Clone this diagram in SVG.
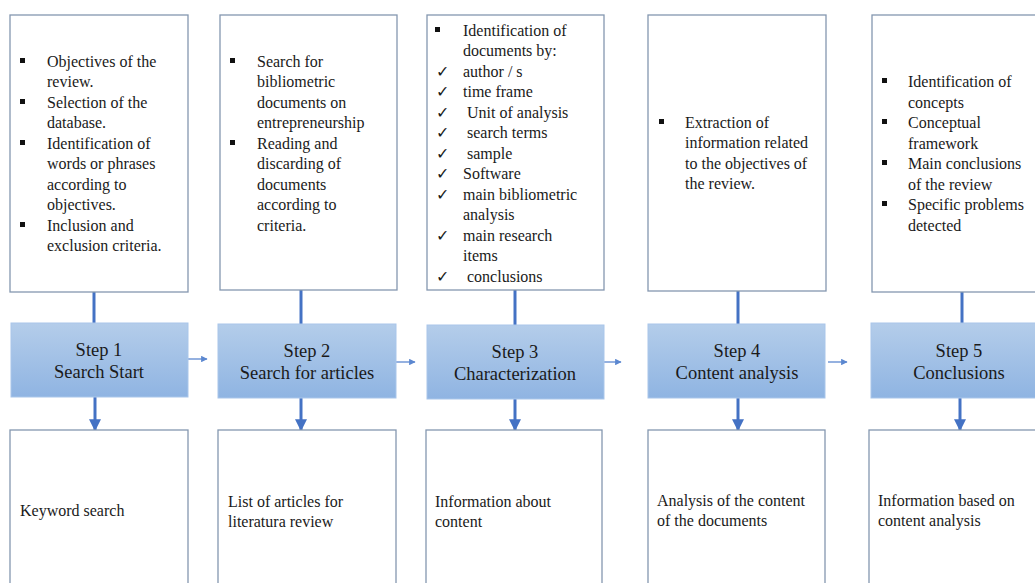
<svg xmlns="http://www.w3.org/2000/svg" width="1035" height="583" viewBox="0 0 1035 583">
<defs>
<linearGradient id="stepGrad" x1="0" y1="0" x2="0" y2="1">
<stop offset="0" stop-color="#b4cdea"/>
<stop offset="1" stop-color="#8fb4e2"/>
</linearGradient>
<marker id="ah" viewBox="0 0 10 10" refX="9" refY="5" markerWidth="4" markerHeight="4" orient="auto" markerUnits="strokeWidth">
<path d="M0,0 L10,5 L0,10 z" fill="#4472c4"/>
</marker>
<marker id="ahs" viewBox="0 0 10 10" refX="9" refY="5" markerWidth="5" markerHeight="5" orient="auto" markerUnits="strokeWidth">
<path d="M0,0 L10,5 L0,10 z" fill="#5b87d0"/>
</marker>
</defs>
<style>
text{font-family:"Liberation Serif","Times New Roman",Tinos,Times,"DejaVu Serif",serif}
.box{fill:#fff;stroke:#8497b0;stroke-width:1.3}
.step{fill:url(#stepGrad);stroke:#a9c6ea;stroke-width:1}
.t{font-size:16px;fill:#1a1a1a}
.s{font-size:18.5px;fill:#1a1a1a;text-anchor:middle}
.b{fill:#111}
.v{stroke:#4472c4;stroke-width:3;fill:none}
.h{stroke:#5b87d0;stroke-width:1.3;fill:none}
</style>
<rect width="1035" height="583" fill="#fff"/>

<g id="connectors">
<line class="v" x1="94" y1="292" x2="94" y2="323"/>
<line class="v" x1="301" y1="290" x2="301" y2="324"/>
<line class="v" x1="515" y1="290" x2="515" y2="325"/>
<line class="v" x1="738" y1="291" x2="738" y2="324"/>
<line class="v" x1="962" y1="292" x2="962" y2="323"/>
<line class="v" x1="95" y1="397" x2="95" y2="430" marker-end="url(#ah)"/>
<line class="v" x1="301" y1="398" x2="301" y2="430" marker-end="url(#ah)"/>
<line class="v" x1="515" y1="399" x2="515" y2="430" marker-end="url(#ah)"/>
<line class="v" x1="738" y1="398" x2="738" y2="430" marker-end="url(#ah)"/>
<line class="v" x1="960" y1="398" x2="960" y2="430" marker-end="url(#ah)"/>
<line class="h" x1="188" y1="359" x2="207" y2="359" marker-end="url(#ahs)"/>
<line class="h" x1="396" y1="362" x2="415" y2="362" marker-end="url(#ahs)"/>
<line class="h" x1="604" y1="362" x2="621" y2="362" marker-end="url(#ahs)"/>
<line class="h" x1="828" y1="362" x2="847" y2="362" marker-end="url(#ahs)"/>
</g>

<g id="top1">
<rect class="box" x="10" y="15" width="178" height="277"/>
<g class="t">
<rect class="b" x="20" y="58" width="5" height="5"/><text x="47" y="67">Objectives of the</text>
<text x="47" y="87">review.</text>
<rect class="b" x="20" y="99" width="5" height="5"/><text x="47" y="108">Selection of the</text>
<text x="47" y="128">database.</text>
<rect class="b" x="20" y="140" width="5" height="5"/><text x="47" y="149">Identification of</text>
<text x="47" y="169">words or phrases</text>
<text x="47" y="190">according to</text>
<text x="47" y="210">objectives.</text>
<rect class="b" x="20" y="222" width="5" height="5"/><text x="47" y="231">Inclusion and</text>
<text x="47" y="251">exclusion criteria.</text>
</g>
</g>

<g id="top2">
<rect class="box" x="220" y="15" width="177" height="275"/>
<g class="t">
<rect class="b" x="230" y="58" width="5" height="5"/><text x="257" y="67">Search for</text>
<text x="257" y="87">bibliometric</text>
<text x="257" y="108">documents on</text>
<text x="257" y="128">entrepreneurship</text>
<rect class="b" x="230" y="140" width="5" height="5"/><text x="257" y="149">Reading and</text>
<text x="257" y="169">discarding of</text>
<text x="257" y="190">documents</text>
<text x="257" y="210">according to</text>
<text x="257" y="231">criteria.</text>
</g>
</g>

<g id="top3">
<rect class="box" x="427" y="15" width="177" height="275"/>
<g class="t">
<rect class="b" x="435" y="27" width="5" height="5"/><text x="463" y="36">Identification of</text>
<text x="463" y="56">documents by:</text>
<text x="436" y="77">✓</text><text x="463" y="77">author / s</text>
<text x="436" y="97">✓</text><text x="463" y="97">time frame</text>
<text x="436" y="118">✓</text><text x="467" y="118">Unit of analysis</text>
<text x="436" y="138">✓</text><text x="467" y="138">search terms</text>
<text x="436" y="159">✓</text><text x="467" y="159">sample</text>
<text x="436" y="179">✓</text><text x="463" y="179">Software</text>
<text x="436" y="200">✓</text><text x="463" y="200">main bibliometric</text>
<text x="463" y="220">analysis</text>
<text x="436" y="241">✓</text><text x="463" y="241">main research</text>
<text x="463" y="261">items</text>
<text x="436" y="282">✓</text><text x="467" y="282">conclusions</text>
</g>
</g>

<g id="top4">
<rect class="box" x="648" y="15" width="178" height="276"/>
<g class="t">
<rect class="b" x="659" y="119" width="5" height="5"/><text x="685" y="128">Extraction of</text>
<text x="685" y="148">information related</text>
<text x="685" y="169">to the objectives of</text>
<text x="685" y="189">the review.</text>
</g>
</g>

<g id="top5">
<rect class="box" x="872" y="15" width="175" height="277"/>
<g class="t">
<rect class="b" x="882" y="78" width="5" height="5"/><text x="908" y="87">Identification of</text>
<text x="908" y="108">concepts</text>
<rect class="b" x="882" y="119" width="5" height="5"/><text x="908" y="128">Conceptual</text>
<text x="908" y="149">framework</text>
<rect class="b" x="882" y="160" width="5" height="5"/><text x="908" y="169">Main conclusions</text>
<text x="908" y="190">of the review</text>
<rect class="b" x="882" y="201" width="5" height="5"/><text x="908" y="210">Specific problems</text>
<text x="908" y="231">detected</text>
</g>
</g>

<g id="step1">
<rect class="step" x="11" y="323" width="177" height="74"/>
<text class="s" x="99" y="356">Step 1</text>
<text class="s" x="99" y="378">Search Start</text>
</g>
<g id="step2">
<rect class="step" x="218" y="324" width="178" height="74"/>
<text class="s" x="307" y="357">Step 2</text>
<text class="s" x="307" y="379">Search for articles</text>
</g>
<g id="step3">
<rect class="step" x="427" y="325" width="177" height="74"/>
<text class="s" x="515" y="358">Step 3</text>
<text class="s" x="515" y="380">Characterization</text>
</g>
<g id="step4">
<rect class="step" x="648" y="324" width="177" height="74"/>
<text class="s" x="737" y="357">Step 4</text>
<text class="s" x="737" y="379">Content analysis</text>
</g>
<g id="step5">
<rect class="step" x="871" y="323" width="175" height="75"/>
<text class="s" x="959" y="357">Step 5</text>
<text class="s" x="959" y="379">Conclusions</text>
</g>

<g id="bottom1">
<rect class="box" x="10" y="430" width="178" height="160"/>
<text class="t" x="20" y="516">Keyword search</text>
</g>
<g id="bottom2">
<rect class="box" x="218" y="430" width="178" height="160"/>
<text class="t" x="228" y="507">List of articles for</text>
<text class="t" x="228" y="527">literatura review</text>
</g>
<g id="bottom3">
<rect class="box" x="426" y="430" width="176" height="160"/>
<text class="t" x="435" y="507">Information about</text>
<text class="t" x="435" y="527">content</text>
</g>
<g id="bottom4">
<rect class="box" x="648" y="430" width="177" height="160"/>
<text class="t" x="657" y="506">Analysis of the content</text>
<text class="t" x="657" y="526">of the documents</text>
</g>
<g id="bottom5">
<rect class="box" x="869" y="430" width="178" height="160"/>
<text class="t" x="878" y="506">Information based on</text>
<text class="t" x="878" y="526">content analysis</text>
</g>
</svg>
